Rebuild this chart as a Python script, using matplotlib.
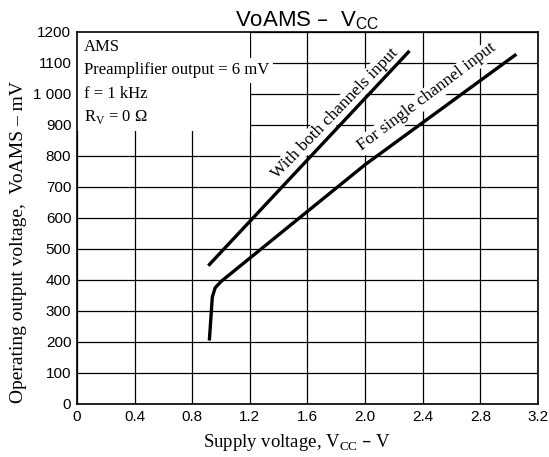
import matplotlib
matplotlib.use('Agg')
import matplotlib.pyplot as plt
from matplotlib.patches import Rectangle

# supply voltage (V) / output voltage (mV)
both_vcc = [0.92, 2.30]
both_vo = [450, 1135]

single_vcc = [0.92, 0.94, 0.96, 1.0, 2.0, 3.04]
single_vo = [210, 345, 375, 395, 772, 1125]

xticks = [0, 0.4, 0.8, 1.2, 1.6, 2.0, 2.4, 2.8, 3.2]
xlabels = ['0', '0.4', '0.8', '1.2', '1.6', '2.0', '2.4', '2.8', '3.2']
yticks = list(range(0, 1300, 100))
ylabels = ['0', '100', '200', '300', '400', '500', '600', '700', '800', '900',
           '1 000', '1100', '1200']

serif = 'Liberation Serif'
sans = 'Liberation Sans'

fig = plt.figure(figsize=(5.49, 4.57), dpi=100)
ax = fig.add_axes([0.140, 0.116, 0.840, 0.814])

ax.set_xlim(0, 3.2)
ax.set_ylim(0, 1200)
ax.set_xticks(xticks)
ax.set_xticklabels(xlabels, fontfamily=sans, fontsize=11)
ax.set_yticks(yticks)
ax.set_yticklabels(ylabels, fontfamily=sans, fontsize=11)
ax.tick_params(length=0, pad=4)
ax.grid(True, color='black', linewidth=0.9, zorder=0)
ax.set_axisbelow(True)
for s in ax.spines.values():
    s.set_linewidth(1.2)

ax.plot(both_vcc, both_vo, color='black', linewidth=2.4, zorder=4)
ax.plot(single_vcc, single_vo, color='black', linewidth=2.4, zorder=4)

# white area behind condition text
ax.add_patch(Rectangle((0, 880), 1.2, 320, facecolor='white', edgecolor='none', zorder=1))

ax.text(0.05, 1140, 'AMS', fontfamily=serif, fontsize=12, zorder=3)
ax.text(0.05, 1063, 'Preamplifier output = 6 mV', fontfamily=serif, fontsize=12, zorder=3,
        bbox=dict(facecolor='white', edgecolor='none', pad=3))
ax.text(0.05, 988, 'f = 1 kHz', fontfamily=serif, fontsize=12, zorder=3)
ax.text(0.05, 913, r'R$_\mathregular{V}$ = 0 Ω', fontfamily=serif, fontsize=12, zorder=3)

ax.text(1.79, 937, 'With both channels input', fontfamily=serif, fontsize=12.5,
        rotation=46, ha='center', va='center', rotation_mode='anchor', zorder=3,
        bbox=dict(facecolor='white', edgecolor='none', pad=1))
ax.text(2.43, 990, 'For single channel input', fontfamily=serif, fontsize=12.5,
        rotation=37, ha='center', va='center', rotation_mode='anchor', zorder=3,
        bbox=dict(facecolor='white', edgecolor='none', pad=1))

ax.set_title(r'VoAMS –  V$_\mathregular{CC}$', fontfamily=sans, fontsize=16, pad=4)
ax.set_xlabel(r'Supply voltage, V$_\mathregular{CC}$ – V', fontfamily=serif, fontsize=13.5)
ax.set_ylabel('Operating output voltage,  VoAMS – mV', fontfamily=serif, fontsize=14)
ax.xaxis.set_label_coords(0.477, -0.075)
ax.yaxis.set_label_coords(-0.108, 0.435)

fig.savefig('out.png', dpi=100)
